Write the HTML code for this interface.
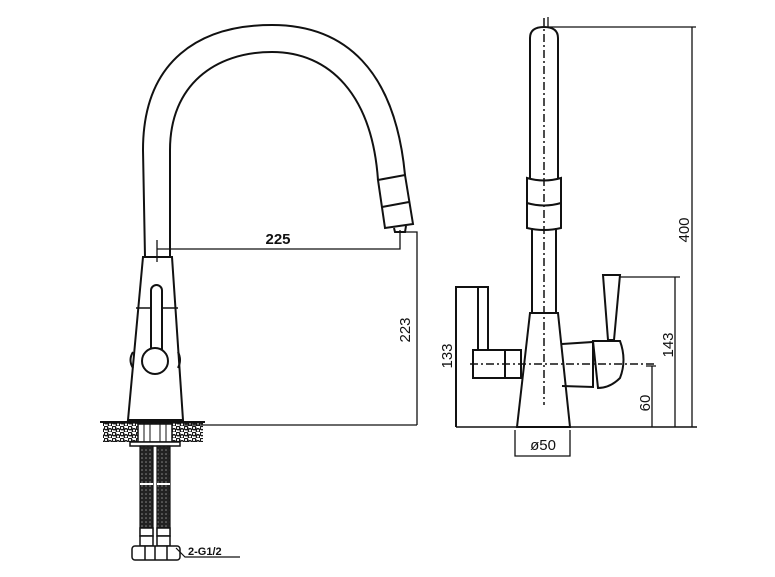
<!DOCTYPE html>
<html><head><meta charset="utf-8"><style>
html,body{margin:0;padding:0;background:#fff;width:775px;height:577px;overflow:hidden}
svg{display:block}
text{font-family:"Liberation Sans",sans-serif;fill:#111}
</style></head><body>
<svg width="775" height="577" viewBox="0 0 775 577" xmlns="http://www.w3.org/2000/svg">
<defs>
<pattern id="grav" width="8" height="6" patternUnits="userSpaceOnUse">
<rect width="8" height="6" fill="#fff"/>
<circle cx="2" cy="2" r="1.8" fill="none" stroke="#111" stroke-width="1.4"/>
<circle cx="6" cy="4.5" r="1.8" fill="none" stroke="#111" stroke-width="1.4"/>
</pattern>
<pattern id="hose" width="4" height="4" patternUnits="userSpaceOnUse">
<rect width="4" height="4" fill="#222"/><circle cx="2" cy="2" r="0.8" fill="#888"/>
</pattern>
</defs>
<g fill="none" stroke="#111" stroke-width="2">
<path d="M145 257 L143 150 C143 60 200 25 272 25 C345 25 395 70 405 175"/>
<path d="M170 257 L170 150 C170 85 215 52 272 52 C330 52 372 95 378 180"/>
<path d="M378 180 L405 175 L413 224 L385 228 Z"/>
<path d="M382 207 L409 202"/>
<path d="M394 228 L395 232 L405 232 L406 226"/>
<path d="M143 257 L172 257 L183 420 L128 420 Z"/>
<path d="M136 308 L178 308" stroke-width="1.5"/>
<rect x="151" y="285" width="11" height="72" rx="5.5" fill="#fff"/>
<circle cx="155" cy="361" r="13" fill="#fff"/>
<path d="M133 352 Q128 360 133 368"/>
<path d="M178 352 Q182 360 178 368"/>
<path d="M128 420 L183 420"/>
<rect x="103" y="422" width="100" height="20" fill="url(#grav)" stroke="none"/>
<path d="M100 422 L205 422"/>
<rect x="138" y="424" width="34" height="18" fill="#fff" stroke-width="1.5"/>
<path d="M144 424v18M150 424v18M160 424v18M166 424v18" stroke-width="1"/>
<rect x="130" y="442" width="50" height="4" fill="#fff" stroke-width="1.5"/>
<rect x="140" y="446" width="13" height="88" fill="url(#hose)" stroke-width="1.2"/>
<rect x="157" y="446" width="13" height="88" fill="url(#hose)" stroke-width="1.2"/>
<path d="M140 484 L153 484 M157 484 L170 484" stroke="#fff" stroke-width="2"/>
<rect x="140" y="528" width="13" height="8" fill="#fff" stroke-width="1.5"/>
<rect x="157" y="528" width="13" height="8" fill="#fff" stroke-width="1.5"/>
<rect x="140" y="536" width="13" height="10" fill="#fff" stroke-width="1.5"/>
<rect x="157" y="536" width="13" height="10" fill="#fff" stroke-width="1.5"/>
<rect x="132" y="546" width="48" height="14" rx="3" fill="#fff" stroke-width="1.5"/>
<path d="M145 546v14M155 546v14M167 546v14" stroke-width="1.5"/>
<path d="M176 548 L185 557 L240 557" stroke-width="1.2"/>
<path d="M157 249 L400 249 L400 230" stroke-width="1.3"/>
<path d="M157 240 L157 262" stroke-width="1.3"/>
<path d="M405 232 L417 232 L417 425 M183 425 L417 425" stroke-width="1.3"/>

<path d="M530 178 L530 38 Q530 27 544 27 Q558 27 558 38 L558 178"/>
<path d="M527 178 Q544 183 561 178 L561 228 Q544 232 527 228 Z"/>
<path d="M527 203 Q544 208 561 203"/>
<path d="M532 228 L532 313 M556 228 L556 313"/>
<path d="M530 313 L558 313 L570 427 L517 427 Z"/>
<path d="M544 18 L544 405" stroke-width="1.5" stroke-dasharray="8,3,2,3"/>
<path d="M456 427 L456 287 L488 287 L488 350 M478 287 L478 350"/>
<rect x="473" y="350" width="48" height="28" fill="#fff"/>
<path d="M505 350 L505 378"/>
<path d="M562 344 L593 342 L593 387 L562 386"/>
<path d="M593 341 L620 341 Q627 360 620 378 Q610 388 598 388 Z" fill="#fff"/>
<path d="M603 275 L620 275 L614 340 L608 340 Z" fill="#fff"/>
<path d="M470 364 L655 364" stroke-width="1.5" stroke-dasharray="8,3,2,3"/>
<path d="M456 427 L697 427" stroke-width="1.5"/>
<path d="M652 366 L652 427 M646 366 L656 366" stroke-width="1.3"/>
<path d="M620 277 L680 277 M675 277 L675 427" stroke-width="1.3"/>
<path d="M548 17 L548 27 L696 27 M692 27 L692 427" stroke-width="1.3"/>
<path d="M515 430 L515 456 L570 456 L570 430" stroke-width="1.3"/>
</g>
<text x="278" y="244" font-size="15" font-weight="bold" text-anchor="middle">225</text>
<text transform="translate(410 330) rotate(-90)" font-size="15" text-anchor="middle">223</text>
<text transform="translate(452 356) rotate(-90)" font-size="15" text-anchor="middle">133</text>
<text transform="translate(673 345) rotate(-90)" font-size="15" text-anchor="middle">143</text>
<text transform="translate(650 403) rotate(-90)" font-size="15" text-anchor="middle">60</text>
<text transform="translate(689 230) rotate(-90)" font-size="15" text-anchor="middle">400</text>
<text x="543" y="450" font-size="15" text-anchor="middle">ø50</text>
<text x="188" y="555" font-size="11" font-weight="bold">2-G1/2</text>
</svg>
</body></html>
